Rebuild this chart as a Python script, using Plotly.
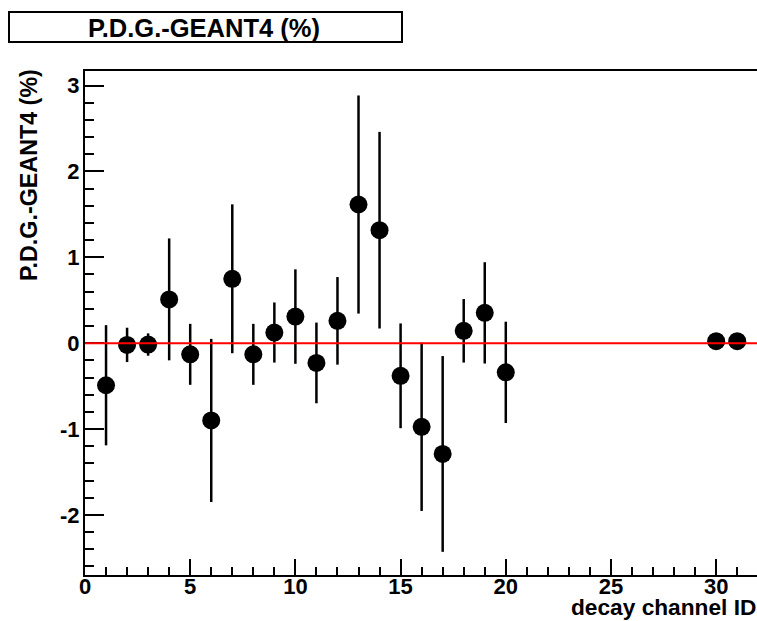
import plotly.graph_objects as go

# ---- data ----
channel_id = [1, 2, 3, 4, 5, 6, 7, 8, 9, 10, 11, 12, 13, 14, 15, 16, 17, 18, 19, 20, 30, 31]
diff_pct = [-0.49, -0.02, -0.016, 0.51, -0.13, -0.90, 0.75, -0.13, 0.124, 0.31,
            -0.23, 0.26, 1.615, 1.316, -0.38, -0.974, -1.29, 0.144, 0.353, -0.34,
            0.023, 0.023]
diff_err = [0.70, 0.20, 0.13, 0.71, 0.355, 0.95, 0.867, 0.355, 0.35, 0.55,
            0.47, 0.51, 1.27, 1.145, 0.61, 0.98, 1.14, 0.37, 0.59, 0.59,
            0.0, 0.0]

x_tick_vals = [0, 5, 10, 15, 20, 25, 30]
x_tick_text = ["0", "5", "10", "15", "20", "25", "30"]
y_tick_vals = [-2, -1, 0, 1, 2, 3]
y_tick_text = ["-2", "-1", "0", "1", "2", "3"]

title_text = "P.D.G.-GEANT4 (%)"
x_title = "decay channel ID"
y_title = "P.D.G.-GEANT4 (%)"

# ---- layout geometry (pixels) ----
W, H = 757, 621
L, R, T, B = 85, 757, 71, 575
PW, PH = R - L, B - T


def px(xp):
    return (xp - L) / PW


def py(yp):
    return (B - yp) / PH


FONT = "Liberation Sans, Arial, Helvetica, sans-serif"

fig = go.Figure()
fig.add_trace(go.Scatter(
    x=channel_id, y=diff_pct, mode="markers",
    marker=dict(color="black", size=18, line=dict(width=0)),
    error_y=dict(type="data", array=diff_err, visible=True,
                 color="black", thickness=2.5, width=0),
    showlegend=False, hoverinfo="x+y",
))

fig.update_layout(
    width=W, height=H,
    margin=dict(l=L, r=W - R, t=T, b=H - B, pad=0),
    paper_bgcolor="white", plot_bgcolor="white",
    font=dict(family=FONT, color="black"),
    showlegend=False,
)

fig.update_xaxes(
    range=[0, 31.94], showgrid=False, zeroline=False,
    showline=True, linecolor="black", linewidth=2, mirror=True,
    ticks="inside", ticklen=16, tickwidth=2, tickcolor="black",
    tickmode="array", tickvals=x_tick_vals, ticktext=x_tick_text,
    minor=dict(ticks="inside", ticklen=8, tickwidth=2, tickcolor="black",
               tick0=0, dtick=1, showgrid=False),
    tickfont=dict(family=FONT, size=22, color="black", weight="bold"),
    ticklabelstandoff=-9,
)
fig.update_yaxes(
    range=[-2.70, 3.17], showgrid=False, zeroline=False,
    showline=True, linecolor="black", linewidth=2, mirror=False,
    ticks="inside", ticklen=19, tickwidth=2, tickcolor="black",
    tickmode="array", tickvals=y_tick_vals, ticktext=y_tick_text,
    minor=dict(ticks="inside", ticklen=9, tickwidth=2, tickcolor="black",
               tick0=0, dtick=0.2, showgrid=False),
    tickfont=dict(family=FONT, size=22, color="black", weight="bold"),
    ticklabelstandoff=-1,
)

# red reference line at zero (drawn above markers)
fig.add_shape(type="line", xref="paper", x0=0, x1=1, yref="y", y0=0, y1=0,
              line=dict(color="#ff0000", width=2), layer="above")

# title box
fig.add_shape(type="rect", xref="paper", yref="paper",
              x0=px(9), x1=px(402), y0=py(42), y1=py(12),
              line=dict(color="black", width=2), fillcolor="white", layer="above")
fig.add_annotation(xref="paper", yref="paper", x=px(204), y=py(27.5),
                   xanchor="center", yanchor="middle", showarrow=False,
                   text=title_text,
                   font=dict(family=FONT, size=25.5, color="black", weight="bold"))

# axis titles (ROOT-style, right/top aligned)
fig.add_annotation(xref="paper", yref="paper", x=px(758), y=py(606.5),
                   xanchor="right", yanchor="middle", showarrow=False,
                   text=x_title,
                   font=dict(family=FONT, size=22.7, color="black", weight="bold"))
fig.add_annotation(xref="paper", yref="paper", x=px(29), y=py(67),
                   xanchor="center", yanchor="top", showarrow=False,
                   textangle=-90, text=y_title,
                   font=dict(family=FONT, size=23.3, color="black", weight="bold"))

fig.write_html("out.html")
